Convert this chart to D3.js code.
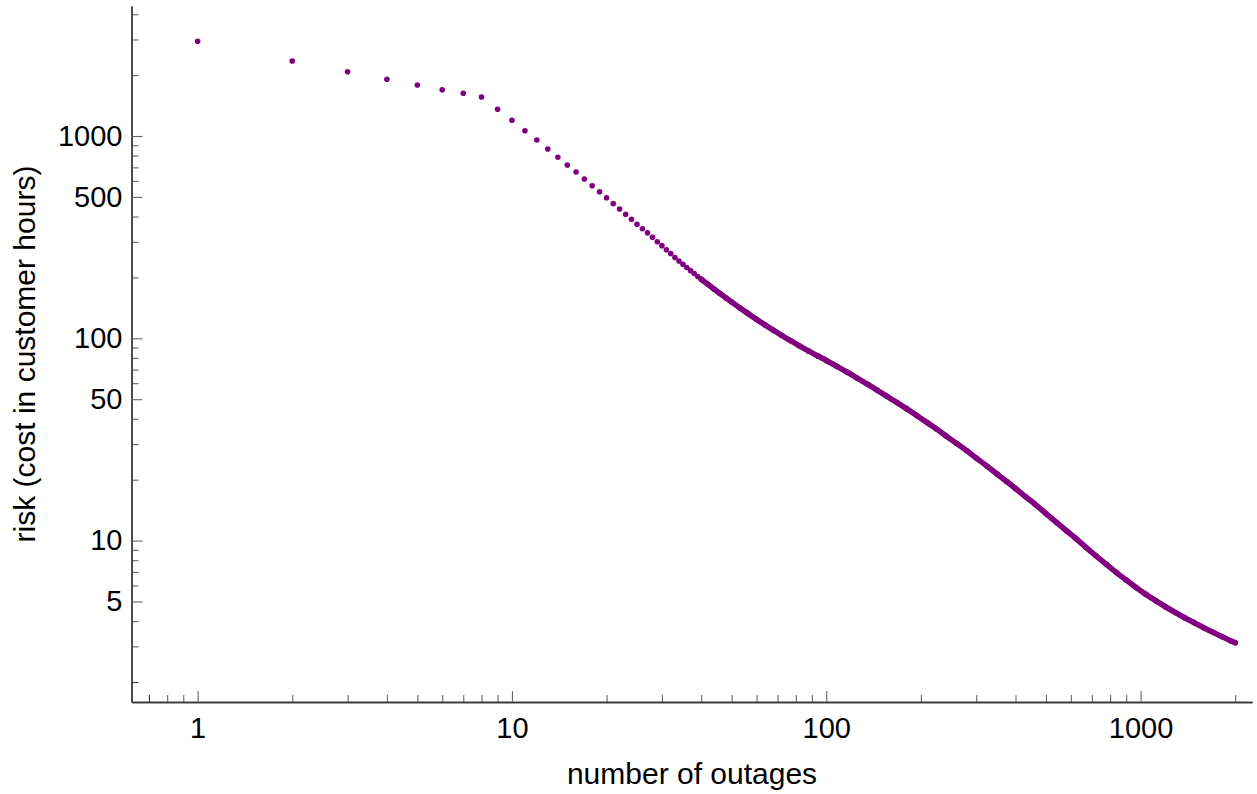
<!DOCTYPE html>
<html>
<head>
<meta charset="utf-8">
<script src="https://cdn.jsdelivr.net/npm/d3@7"></script>
<style>
  body { margin: 0; background: #fff; }
  text { font-family: "Liberation Sans", Arial, sans-serif; fill: #000; }
</style>
</head>
<body>
<svg id="chart" width="1257" height="794"></svg>
<script>
// Number of outages (x) and the associated risk in customer hours (y)
const outages = [
  1, 2, 3, 4, 5, 6, 7, 8, 9, 10, 11, 12, 13, 14, 15, 16, 17, 18, 19, 20,
  21, 22, 23, 24, 25, 26, 27, 28, 29, 30, 31, 32, 33, 34, 35, 36, 37, 38, 39, 40,
  42, 44, 46, 48, 50, 53, 56, 60, 64, 68, 72, 77, 82, 88, 94, 100,
  108, 116, 125, 135, 145, 156, 168, 180, 195, 210,
  225, 240, 260, 280, 300, 325, 350, 375, 400, 430,
  460, 500, 540, 580, 620, 670, 720, 780, 840, 900,
  970, 1040, 1120, 1200, 1290, 1380, 1480, 1590, 1700, 1820,
  1940, 2000
];
const risk = [
  2938, 2349, 2079, 1906, 1787, 1694, 1626, 1559, 1355, 1196,
  1062, 955, 862, 785, 719, 664, 613, 568, 530, 495,
  463, 436, 410, 388, 366, 348, 332, 316, 300, 287,
  274, 262, 251, 241, 232, 224, 216, 209, 202, 196,
  184.9, 174.9, 166.0, 158.2, 151.0, 141.6, 133.5, 124.1, 116.2, 109.4, 103.6, 97.3, 91.9, 86.4, 81.7, 77.7,
  72.7, 68.3, 63.8, 59.4, 55.5, 51.7, 48.1, 44.9, 41.3, 38.2,
  35.5, 33.0, 30.2, 27.8, 25.6, 23.3, 21.3, 19.6, 18.1, 16.5,
  15.2, 13.6, 12.3, 11.2, 10.3, 9.27, 8.43, 7.61, 6.93, 6.38,
  5.85, 5.42, 5.03, 4.71, 4.41, 4.16, 3.93, 3.71, 3.52, 3.35,
  3.19, 3.13
];

const xTickLabels = [1, 10, 100, 1000];
const yTickLabels = [5, 10, 50, 100, 500, 1000];
const xTitle = "number of outages";
const yTitle = "risk (cost in customer hours)";

const xDomain = [0.616, 2262];
const yDomain = [1.593, 4391];

const color = "#800080";
const axisColor = "#333";
const minorColor = "#666";

const svg = d3.select("#chart");

const x = d3.scaleLog().domain(xDomain).range([131.5, 1252]);
const y = d3.scaleLog().domain(yDomain).range([702, 6]);

// minor ticks: every k*10^n inside the domain, minus the labelled ones
const xMinor = x.ticks().filter(d => !xTickLabels.some(v => Math.abs(v - d) < 1e-9));
const yMinor = y.ticks().filter(d => !yTickLabels.some(v => Math.abs(v - d) < 1e-9));

const fmt = d3.format("d");

// x axis
const gx = svg.append("g").attr("transform", "translate(0,702)");
gx.call(d3.axisBottom(x).tickValues(xMinor).tickSize(-7).tickSizeOuter(0).tickFormat(""));
gx.append("g").call(d3.axisBottom(x).tickValues(xTickLabels).tickSize(-11).tickSizeOuter(0)
  .tickPadding(15).tickFormat(fmt));

// y axis
const gy = svg.append("g").attr("transform", "translate(131.5,0)");
gy.call(d3.axisLeft(y).tickValues(yMinor).tickSize(-7).tickSizeOuter(0).tickFormat(""));
gy.append("g").call(d3.axisLeft(y).tickValues(yTickLabels).tickSize(-11).tickSizeOuter(0)
  .tickPadding(9).tickFormat(fmt));

svg.selectAll(".domain").attr("stroke", axisColor).attr("stroke-width", 1.3);
svg.selectAll(".tick line").attr("stroke", minorColor).attr("stroke-width", 1.1);
svg.selectAll(".tick text").attr("font-size", 29).attr("font-family", "Liberation Sans, Arial, sans-serif")
  .attr("fill", "#000");
// labelled ticks a little darker
gx.select("g").selectAll(".tick line").attr("stroke", axisColor);
gy.select("g").selectAll(".tick line").attr("stroke", axisColor);
gx.select("g").select(".domain").remove();
gy.select("g").select(".domain").remove();

// axis titles
svg.append("text")
  .attr("x", 692).attr("y", 784)
  .attr("text-anchor", "middle")
  .attr("font-size", 30)
  .text(xTitle);

svg.append("text")
  .attr("transform", "translate(35,354) rotate(-90)")
  .attr("text-anchor", "middle")
  .attr("font-size", 30)
  .text(yTitle);

// data
const data = outages.map((n, i) => ({ n, r: risk[i] }));
const dense = data.filter(d => d.n >= 40);

svg.append("path")
  .datum(dense)
  .attr("fill", "none")
  .attr("stroke", color)
  .attr("stroke-width", 5.6)
  .attr("stroke-linecap", "round")
  .attr("stroke-linejoin", "round")
  .attr("d", d3.line().x(d => x(d.n)).y(d => y(d.r)).curve(d3.curveCatmullRom));

svg.append("g").selectAll("circle")
  .data(data)
  .join("circle")
  .attr("cx", d => x(d.n))
  .attr("cy", d => y(d.r))
  .attr("r", 2.8)
  .attr("fill", color);
</script>
</body>
</html>
